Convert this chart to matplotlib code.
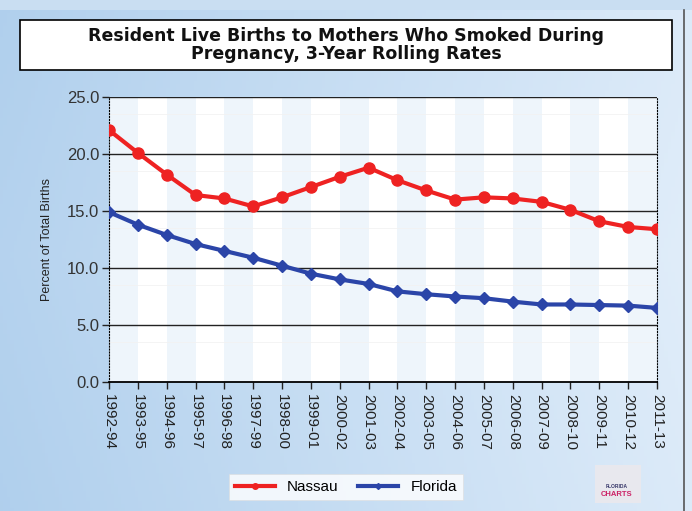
import numpy as np
import matplotlib
matplotlib.use('Agg')
import matplotlib.pyplot as plt
from matplotlib.patches import Rectangle

# ── 数据 ──
periods = ['1992-94', '1993-95', '1994-96', '1995-97', '1996-98', '1997-99',
           '1998-00', '1999-01', '2000-02', '2001-03', '2002-04', '2003-05',
           '2004-06', '2005-07', '2006-08', '2007-09', '2008-10', '2009-11',
           '2010-12', '2011-13']
nassau = [22.1, 20.1, 18.2, 16.4, 16.1, 15.4, 16.2, 17.1, 18.0, 18.8,
          17.7, 16.8, 16.0, 16.2, 16.1, 15.8, 15.1, 14.1, 13.6, 13.4]
florida = [14.9, 13.8, 12.9, 12.1, 11.5, 10.9, 10.2, 9.5, 9.0, 8.6,
           7.95, 7.7, 7.5, 7.35, 7.05, 6.8, 6.8, 6.75, 6.7, 6.5]
yticks = [0, 5, 10, 15, 20, 25]

plt.rcParams['font.family'] = ['Liberation Sans', 'DejaVu Sans']

W, H = 692, 511
fig = plt.figure(figsize=(W / 100, H / 100), dpi=100)

# 背景渐变
bg = fig.add_axes([0, 0, 1, 1], zorder=-10)
gx = np.linspace(0, 1, 200)
gy = np.linspace(0, 1, 150)
X, Y = np.meshgrid(gx, gy)
t = np.clip(0.35 + 0.65 * X - 0.15 * np.abs(Y - 0.5), 0, 1)
left = np.array([0.62, 0.77, 0.91])
right = np.array([0.88, 0.93, 0.98])
img = left[None, None, :] * (1 - t[..., None]) + right[None, None, :] * t[..., None]
bg.imshow(img, aspect='auto', extent=[0, 1, 0, 1], origin='lower')
bg.add_patch(Rectangle((0, 1 - 10 / H), 1, 10 / H, color='#c9def2', lw=0))
bg.plot([684 / W, 684 / W], [0, 1 - 10 / H], color='#555555', lw=1.2)
bg.set_xlim(0, 1); bg.set_ylim(0, 1)
bg.axis('off')

# 标题框
fig.patches.append(Rectangle((20 / W, 1 - 70 / H), 652 / W, 50 / H,
                             transform=fig.transFigure, facecolor='white',
                             edgecolor='black', lw=1.2))
fig.text(0.5, 1 - 45 / H,
         'Resident Live Births to Mothers Who Smoked During\nPregnancy, 3-Year Rolling Rates',
         ha='center', va='center', fontsize=12.5, fontweight='bold',
         family='DejaVu Sans', linespacing=1.05, color='#111111')

# 绘图区
ax = fig.add_axes([109 / W, 1 - 382 / H, 548 / W, 285 / H])
x = np.arange(len(periods))
ax.set_facecolor('white')
for i in range(0, len(periods) - 1, 2):
    ax.axvspan(i, i + 1, color='#eef5fb', lw=0, zorder=0)
for yv in yticks[1:]:
    ax.axhline(yv, color='#222222', lw=1.0, zorder=1)
for yv in np.arange(2.5, 25, 5):
    ax.axhline(yv + 1.0, color='#f2f2f2', lw=0.6, zorder=1)

ax.plot(x, nassau, color='#ee2222', lw=3, marker='o', markersize=8,
        zorder=4, label='Nassau')
ax.plot(x, florida, color='#2b45a8', lw=3, marker='D', markersize=6,
        zorder=3, label='Florida')

ax.set_xlim(0, len(periods) - 1)
ax.set_ylim(0, 25)
ax.set_yticks(yticks)
ax.set_yticklabels([f'{v:.1f}' for v in yticks], fontsize=12, color='#333333')
ax.set_xticks(x)
ax.set_xticklabels(periods, rotation=-90, fontsize=11, color='#222222')
ax.tick_params(axis='both', length=5, width=1, color='#222222')
ax.tick_params(axis='y', pad=2)
ax.set_ylabel('Percent of Total Births', fontsize=9, color='#222222', labelpad=10)
ax.spines['top'].set_visible(False)
ax.spines['left'].set_linestyle(':')
ax.spines['right'].set_linestyle(':')
ax.spines['bottom'].set_linewidth(1.3)

# 图例
leg = fig.legend(loc='center', bbox_to_anchor=(346 / W, 1 - 487 / H),
                 ncol=2, frameon=True, fontsize=11, fancybox=False,
                 handlelength=2.6, columnspacing=1.3, markerscale=0.5)
leg.get_frame().set_edgecolor('#dddddd')
leg.get_frame().set_linewidth(0.5)

# 标志
fig.patches.append(Rectangle((595 / W, 1 - 503 / H), 46 / W, 38 / H,
                             transform=fig.transFigure, facecolor='#e8e8ee',
                             edgecolor='none'))
fig.text(617 / W, 1 - 488 / H, 'FLORIDA', fontsize=3.5, ha='center',
         color='#333366', fontweight='bold')
fig.text(617 / W, 1 - 496 / H, 'CHARTS', fontsize=5.5, ha='center',
         color='#cc2266', fontweight='bold')

fig.savefig('out.png', dpi=100)
